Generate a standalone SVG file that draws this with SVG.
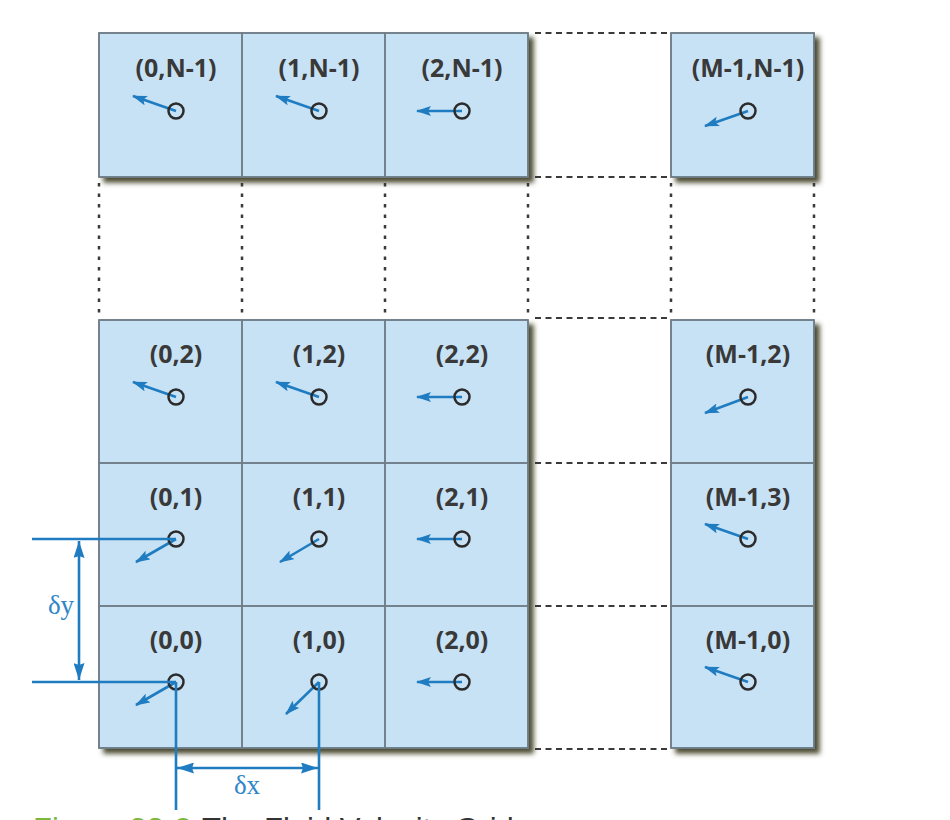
<svg xmlns="http://www.w3.org/2000/svg" width="950" height="820" viewBox="0 0 950 820">
<defs>
<filter id="shadow" x="-10%" y="-10%" width="130%" height="130%">
<feGaussianBlur in="SourceAlpha" stdDeviation="2.5"/>
<feOffset dx="5" dy="5" result="b"/>
<feFlood flood-color="#3a3a1e" flood-opacity="0.9"/>
<feComposite in2="b" operator="in"/>
<feMerge><feMergeNode/><feMergeNode in="SourceGraphic"/></feMerge>
</filter>
<marker id="vh" markerUnits="userSpaceOnUse" markerWidth="16" markerHeight="10" refX="14" refY="5" orient="auto">
<path d="M0,0 L15,5 L0,10 L3,5 Z" fill="#1f7cc1"/>
</marker>
<marker id="dh" markerUnits="userSpaceOnUse" markerWidth="18" markerHeight="11" refX="17" refY="5.5" orient="auto-start-reverse">
<path d="M0,0 L17,5.5 L0,11 L2,5.5 Z" fill="#1f7cc1"/>
</marker>
</defs>
<style>
.blk{fill:#c8e2f5;stroke:#6e7c86;stroke-width:1.5}
.cell{fill:none;stroke:#6e7c86;stroke-width:1.5}
.lbl{font-family:"Open Sans","Liberation Sans",sans-serif;font-weight:bold;font-size:25px;fill:#393939;text-anchor:middle}
.pt{fill:none;stroke:#2b2b2b;stroke-width:2.5}
.vec{stroke:#1f7cc1;stroke-width:2.6;fill:none;marker-end:url(#vh)}
.dim{stroke:#1f7cc1;stroke-width:2.6;fill:none}
.dimA{stroke:#1f7cc1;stroke-width:2.6;fill:none;marker-start:url(#dh);marker-end:url(#dh)}
.dl{font-family:"Liberation Serif",serif;font-size:27px;fill:#2f86c8;text-anchor:middle}
.dotv{stroke:#3a3a3a;stroke-width:2.5;stroke-dasharray:3.5 7}
.doth{stroke:#3a3a3a;stroke-width:2.2;stroke-dasharray:6 4.5}
.cap{font-family:"Liberation Sans",sans-serif;font-size:31px}
</style>

<g id="blocks">
<rect class="blk" x="99" y="33" width="429" height="144" filter="url(#shadow)"/>
<rect class="blk" x="671" y="33" width="143" height="144" filter="url(#shadow)"/>
<rect class="blk" x="99" y="320" width="429" height="428" filter="url(#shadow)"/>
<rect class="blk" x="671" y="320" width="143" height="428" filter="url(#shadow)"/>
</g>

<g id="cell-0-N-1"><rect class="cell" x="99" y="33" width="143" height="144"/><text class="lbl" x="176" y="77">(0,N-1)</text><line class="vec" x1="176" y1="111" x2="133" y2="96"/><circle class="pt" cx="176" cy="111" r="7.5"/></g>
<g id="cell-1-N-1"><rect class="cell" x="242" y="33" width="143" height="144"/><text class="lbl" x="319" y="77">(1,N-1)</text><line class="vec" x1="319" y1="111" x2="276" y2="96"/><circle class="pt" cx="319" cy="111" r="7.5"/></g>
<g id="cell-2-N-1"><rect class="cell" x="385" y="33" width="143" height="144"/><text class="lbl" x="462" y="77">(2,N-1)</text><line class="vec" x1="462" y1="111" x2="417" y2="111"/><circle class="pt" cx="462" cy="111" r="7.5"/></g>
<g id="cell-M-1-N-1"><rect class="cell" x="671" y="33" width="143" height="144"/><text class="lbl" x="748" y="77">(M-1,N-1)</text><line class="vec" x1="748" y1="111" x2="705" y2="126"/><circle class="pt" cx="748" cy="111" r="7.5"/></g>

<g id="cell-0-2"><rect class="cell" x="99" y="320" width="143" height="143"/><text class="lbl" x="176" y="363">(0,2)</text><line class="vec" x1="176" y1="397" x2="133" y2="382"/><circle class="pt" cx="176" cy="397" r="7.5"/></g>
<g id="cell-1-2"><rect class="cell" x="242" y="320" width="143" height="143"/><text class="lbl" x="319" y="363">(1,2)</text><line class="vec" x1="319" y1="397" x2="276" y2="382"/><circle class="pt" cx="319" cy="397" r="7.5"/></g>
<g id="cell-2-2"><rect class="cell" x="385" y="320" width="143" height="143"/><text class="lbl" x="462" y="363">(2,2)</text><line class="vec" x1="462" y1="397" x2="417" y2="397"/><circle class="pt" cx="462" cy="397" r="7.5"/></g>
<g id="cell-M-1-2"><rect class="cell" x="671" y="320" width="143" height="143"/><text class="lbl" x="748" y="363">(M-1,2)</text><line class="vec" x1="748" y1="397" x2="705" y2="413"/><circle class="pt" cx="748" cy="397" r="7.5"/></g>

<g id="cell-0-1"><rect class="cell" x="99" y="463" width="143" height="143"/><text class="lbl" x="176" y="506">(0,1)</text><line class="vec" x1="176" y1="539" x2="136" y2="562"/><circle class="pt" cx="176" cy="539" r="7.5"/></g>
<g id="cell-1-1"><rect class="cell" x="242" y="463" width="143" height="143"/><text class="lbl" x="319" y="506">(1,1)</text><line class="vec" x1="319" y1="539" x2="280" y2="562"/><circle class="pt" cx="319" cy="539" r="7.5"/></g>
<g id="cell-2-1"><rect class="cell" x="385" y="463" width="143" height="143"/><text class="lbl" x="462" y="506">(2,1)</text><line class="vec" x1="462" y1="539" x2="417" y2="539"/><circle class="pt" cx="462" cy="539" r="7.5"/></g>
<g id="cell-M-1-3"><rect class="cell" x="671" y="463" width="143" height="143"/><text class="lbl" x="748" y="506">(M-1,3)</text><line class="vec" x1="748" y1="539" x2="705" y2="524"/><circle class="pt" cx="748" cy="539" r="7.5"/></g>

<g id="cell-0-0"><rect class="cell" x="99" y="606" width="143" height="142"/><text class="lbl" x="176" y="649">(0,0)</text><line class="vec" x1="176" y1="682" x2="136" y2="705"/><circle class="pt" cx="176" cy="682" r="7.5"/></g>
<g id="cell-1-0"><rect class="cell" x="242" y="606" width="143" height="142"/><text class="lbl" x="319" y="649">(1,0)</text><line class="vec" x1="319" y1="682" x2="286" y2="714"/><circle class="pt" cx="319" cy="682" r="7.5"/></g>
<g id="cell-2-0"><rect class="cell" x="385" y="606" width="143" height="142"/><text class="lbl" x="462" y="649">(2,0)</text><line class="vec" x1="462" y1="682" x2="417" y2="682"/><circle class="pt" cx="462" cy="682" r="7.5"/></g>
<g id="cell-M-1-0"><rect class="cell" x="671" y="606" width="143" height="142"/><text class="lbl" x="748" y="649">(M-1,0)</text><line class="vec" x1="748" y1="682" x2="705" y2="667"/><circle class="pt" cx="748" cy="682" r="7.5"/></g>

<g id="connectors">
<line class="dotv" x1="99" y1="183" x2="99" y2="318"/>
<line class="dotv" x1="242" y1="183" x2="242" y2="318"/>
<line class="dotv" x1="385" y1="183" x2="385" y2="318"/>
<line class="dotv" x1="528" y1="183" x2="528" y2="318"/>
<line class="dotv" x1="671" y1="183" x2="671" y2="318"/>
<line class="dotv" x1="814" y1="183" x2="814" y2="318"/>
<line class="doth" x1="535" y1="33" x2="668" y2="33"/>
<line class="doth" x1="535" y1="177" x2="668" y2="177"/>
<line class="doth" x1="535" y1="318" x2="668" y2="318"/>
<line class="doth" x1="535" y1="463" x2="668" y2="463"/>
<line class="doth" x1="535" y1="606" x2="668" y2="606"/>
<line class="doth" x1="535" y1="749" x2="668" y2="749"/>

<line class="dim" x1="32" y1="539" x2="176" y2="539"/>
<line class="dim" x1="32" y1="682" x2="176" y2="682"/>
<line class="dim" x1="176" y1="682" x2="176" y2="810"/>
<line class="dim" x1="319" y1="682" x2="319" y2="810"/>
<line class="dimA" x1="79" y1="541" x2="79" y2="680"/>
<line class="dimA" x1="177" y1="768" x2="318" y2="768"/>
<text class="dl" x="61" y="614">δy</text>
<text class="dl" x="247" y="794">δx</text>
</g>

<text class="cap" x="33" y="840"><tspan fill="#7cb83e">Figure 38-2</tspan><tspan fill="#333333" x="202">The Fluid Velocity Grid</tspan></text>
</svg>
